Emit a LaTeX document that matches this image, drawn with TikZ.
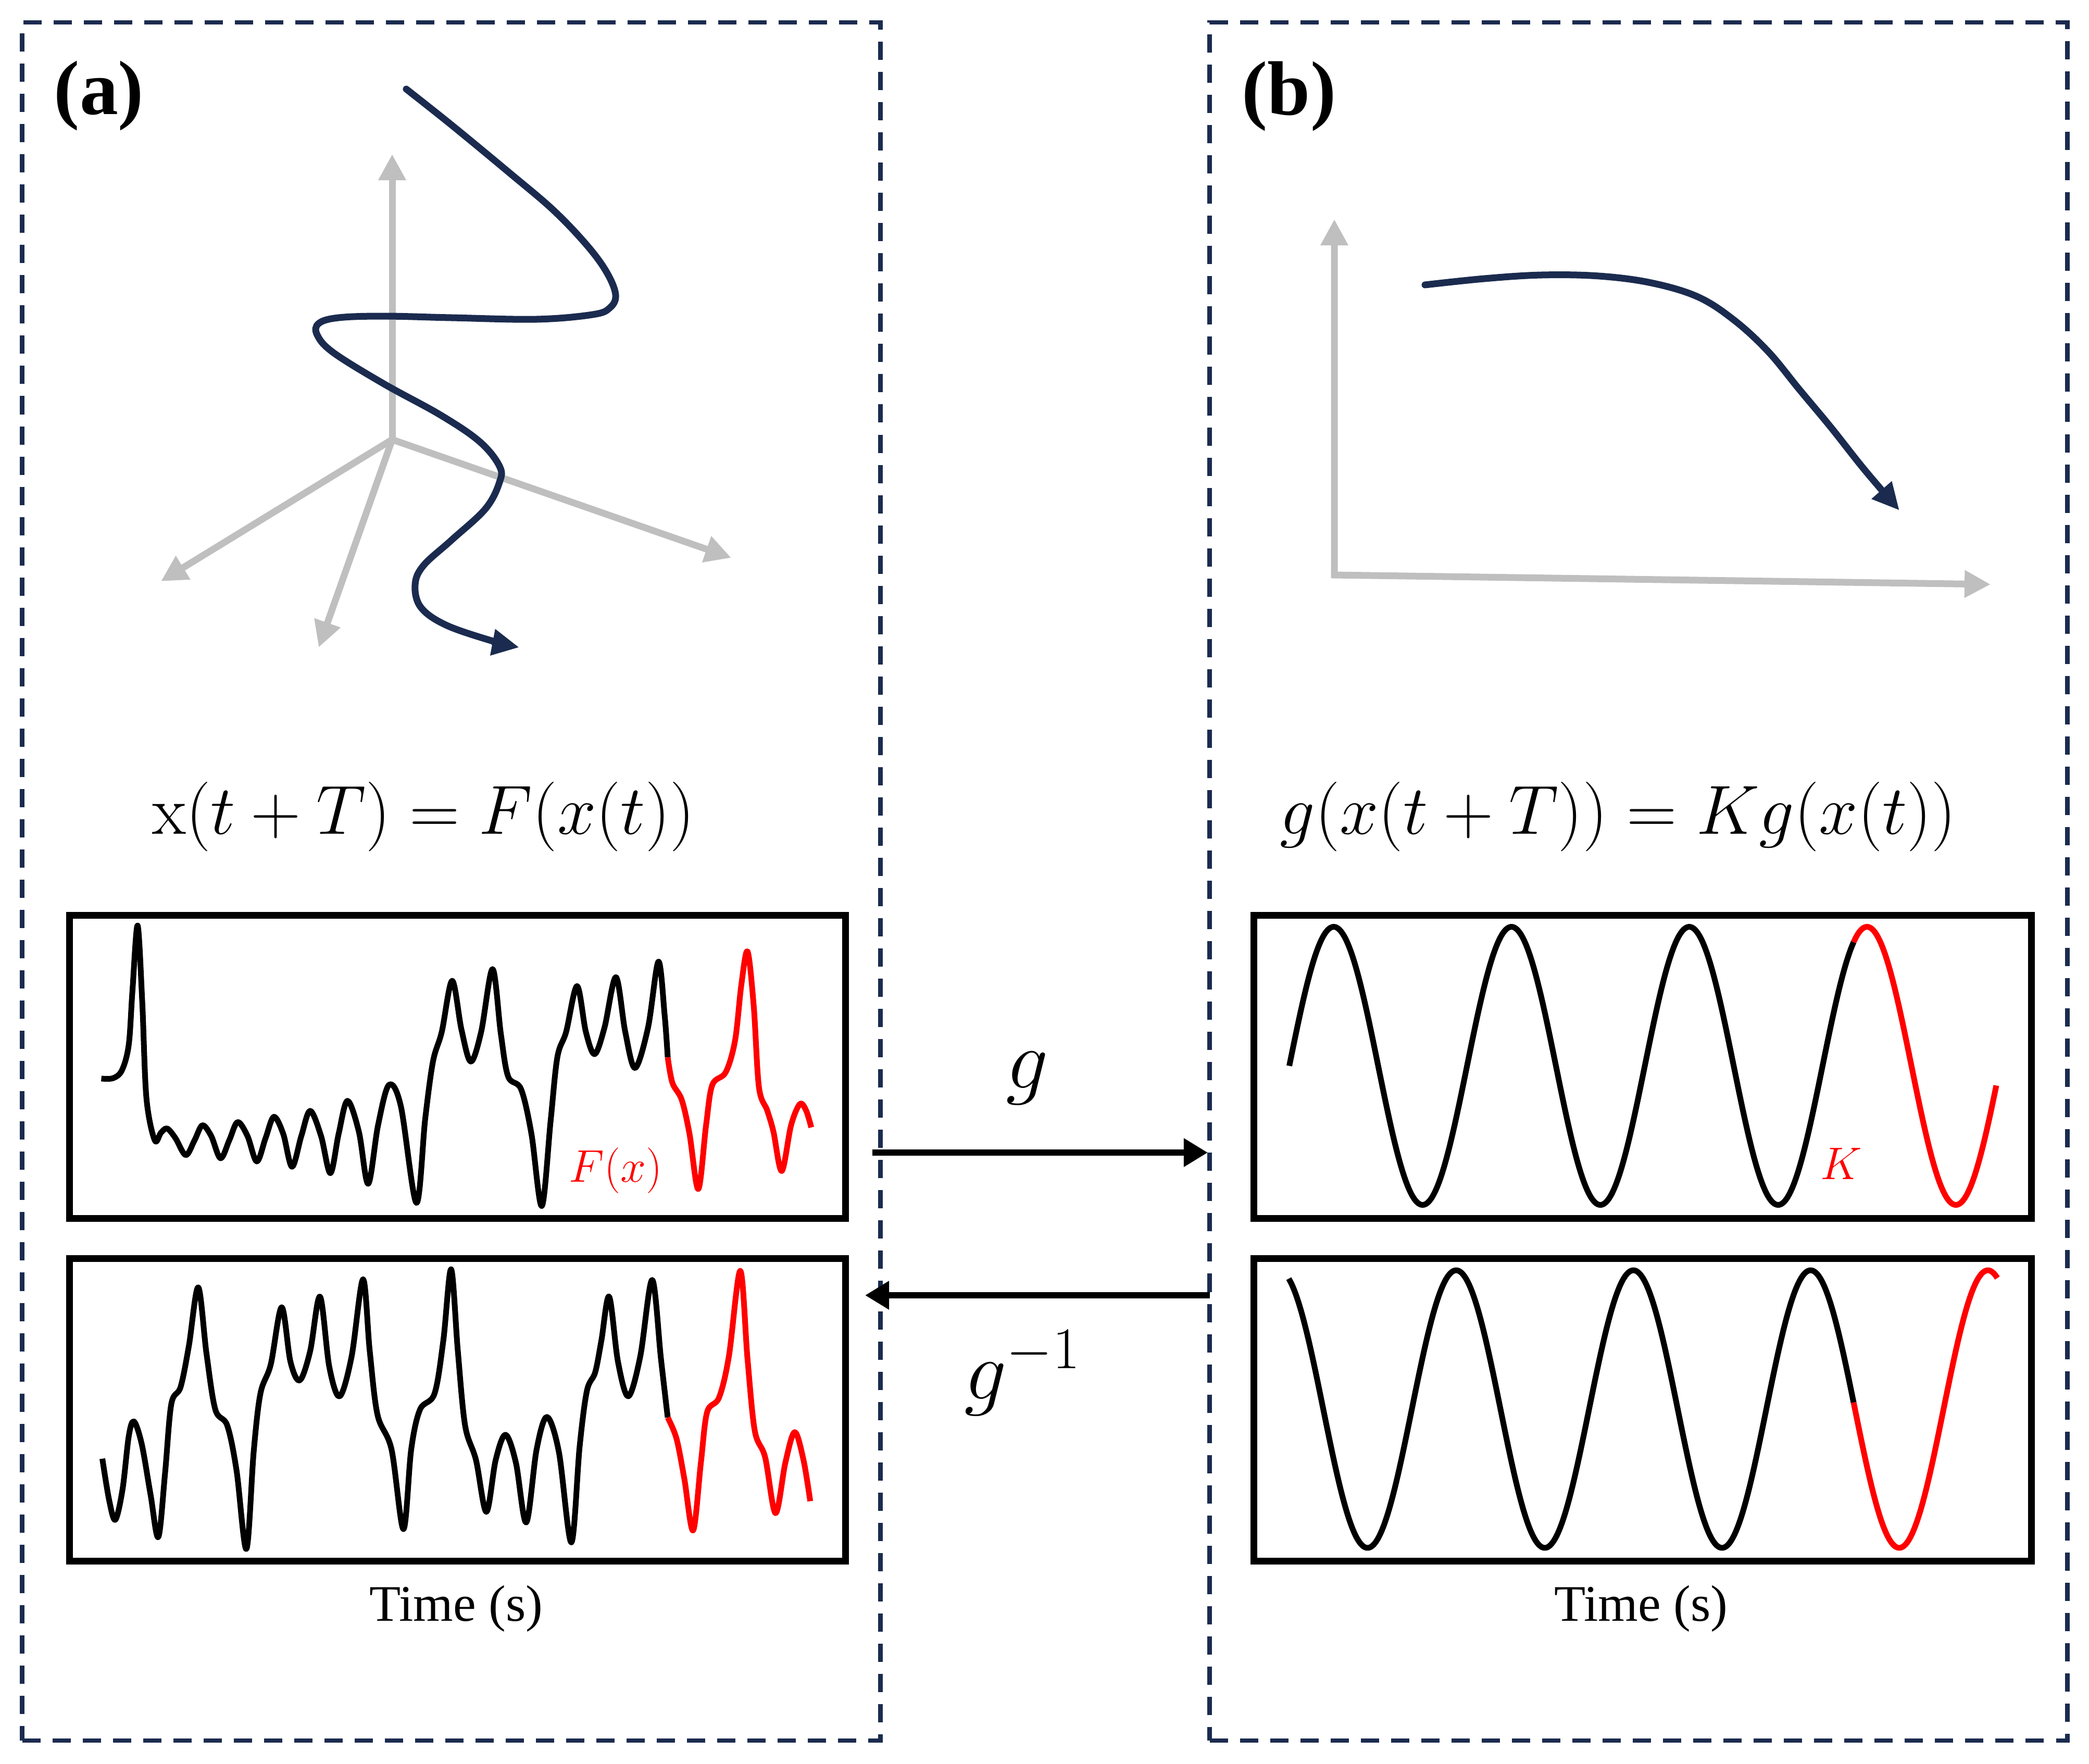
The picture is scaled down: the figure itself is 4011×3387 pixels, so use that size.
\documentclass[tikz,border=0pt]{standalone}
\usepackage{fix-cm}
\usepackage[no-math]{fontspec}
\setmainfont{Liberation Serif}
\usetikzlibrary{arrows.meta}
\definecolor{navy}{HTML}{1B2B4F}
\definecolor{axgrey}{HTML}{BFBFBF}
\begin{document}
\begin{tikzpicture}[x=0.01cm, y=-0.01cm,
  panel/.style={draw=navy, line width=0.087cm, dash pattern=on 0.35cm off 0.23cm, inner sep=0pt, outer sep=0pt},
  sigbox/.style={draw=black, line width=0.13cm, inner sep=0pt, outer sep=0pt, minimum height=5.81cm},
  axis3d/.style={draw=axgrey, line width=0.13cm, -{Triangle[length=0.5cm,width=0.5cm]}},
  axis2d/.style={draw=axgrey, line width=0.13cm, {Triangle[length=0.5cm,width=0.5cm]}-{Triangle[length=0.5cm,width=0.5cm]}},
  traj/.style={draw=navy, line width=0.13cm, line cap=round, -{Triangle[length=0.52cm,width=0.48cm]}},
  sig/.style={draw=black, line width=0.11cm, line join=round},
  sigred/.style={draw=red, line width=0.11cm, line join=round},
  maparrow/.style={draw=black, line width=0.115cm, -{Triangle[length=0.46cm,width=0.52cm]}},
  tag/.style={font=\fontsize{42}{48}\selectfont\bfseries},
  eq/.style={font=\fontsize{38}{44}\selectfont},
  timelab/.style={font=\fontsize{28}{32}\selectfont},
  redlab/.style={text=red, font=\fontsize{25}{30}\selectfont},
  maplab/.style={font=\fontsize{46}{52}\selectfont}]
\useasboundingbox (0,0) rectangle (4011,3387);

% dashed panels
\node[panel, minimum width=16.47cm, minimum height=32.97cm] (pa) at (866.5,1692.5) {};
\node[panel, minimum width=16.46cm, minimum height=32.97cm] (pb) at (3146,1692.5) {};

% panel tags
\node[tag] (ta) at (190,184) {(a)};
\node[tag] (tb) at (2475,185) {(b)};

% 3D axes (a)
\coordinate (o3) at (753,844);
\coordinate (zup) at (753,296);
\coordinate (xl) at (309,1116);
\coordinate (yd) at (612,1243);
\coordinate (xr) at (1404,1071);
\draw[axis3d] (o3) -- (zup);
\draw[axis3d] (o3) -- (xl);
\draw[axis3d] (o3) -- (yd);
\draw[axis3d] (o3) -- (xr);

% trajectory (a)
\draw[traj] plot[smooth, tension=0.6] coordinates {
 (780,171) (867,240) (976,330) (1062,403) (1127,471) (1165,523) (1182,566)
 (1171,591) (1138,604) (1030,613) (867,610) (737,607) (650,610) (612,621)
 (609,643) (640,677) (737,737) (846,797) (921,848) (959,895) (959,926)
 (932,977) (867,1037) (813,1086) (797,1123) (808,1166) (856,1200)
 (943,1230) (997,1243)};

% 2D axes (b)
\coordinate (o2) at (2562,1104);
\coordinate (vup) at (2562,421);
\coordinate (hr) at (3822,1122);
\draw[axis2d] (vup) -- (o2) -- (hr);

% trajectory (b)
\draw[traj] plot[smooth, tension=0.6] coordinates {
 (2736,547) (2850,535) (2960,528) (3070,530) (3170,543) (3260,570)
 (3330,615) (3395,675) (3455,748) (3515,820) (3580,902) (3647,980)};

% equations
\node[eq] (eqa) at (813,1568) {$\mathrm{x}(t+T)=F(x(t))$};
\node[eq] (eqb) at (3107,1568) {$g(x(t+T))=Kg(x(t))$};

% signal boxes
\node[sigbox, minimum width=14.89cm] (s1) at (878.5,2048.5) {};
\node[sigbox, minimum width=14.89cm] (s2) at (878.5,2707) {};
\node[sigbox, minimum width=14.92cm] (s3) at (3154,2048.5) {};
\node[sigbox, minimum width=14.92cm] (s4) at (3154,2707) {};

% left top signal
\begin{scope}[shift={(100,1720)}, xscale=0.995, yscale=0.408]
\draw[sig] plot[smooth, tension=0.55] coordinates {
 (95,860) (118,858) (135,820) (148,700) (155,450) (165,140) (174,500) (182,950)
 (198,1150) (210,1115) (222,1095) (238,1140) (258,1220) (275,1150) (290,1080)
 (307,1130) (325,1235) (342,1150) (358,1065) (377,1130) (395,1250) (412,1140)
 (428,1040) (446,1120) (463,1275) (481,1130) (498,1012) (519,1130) (537,1305)
 (553,1120) (570,965) (592,1110) (610,1355) (629,1080) (650,890) (673,990)
 (703,1445) (720,1050) (735,780) (752,640) (772,400) (790,630) (808,780)
 (828,640) (850,345) (866,650) (880,850) (905,910) (925,1120) (945,1460)
 (962,1060) (975,760) (992,640) (1013,425) (1030,640) (1047,745) (1066,620)
 (1088,383) (1106,640) (1125,810) (1150,620) (1170,310) (1182,560) (1188,760)};
\draw[sigred] plot[smooth, tension=0.55] coordinates {
 (1188,760) (1197,880) (1215,960) (1230,1120) (1247,1380) (1262,1080)
 (1274,890) (1300,830) (1318,680) (1330,420) (1342,262) (1354,520)
 (1364,900) (1380,1010) (1392,1110) (1408,1295) (1426,1080) (1443,980)
 (1455,1010) (1465,1090)};
\end{scope}

% left bottom signal
\begin{scope}[shift={(100,2380)}, xscale=0.995, yscale=0.51]
\draw[sig] plot[smooth, tension=0.55] coordinates {
 (97,825) (110,980) (122,1055) (136,940) (148,740) (158,685) (173,770)
 (190,960) (205,1120) (218,880) (230,620) (248,555) (264,400) (282,180)
 (298,430) (315,640) (338,700) (356,870) (375,1165) (389,800) (402,580)
 (422,470) (443,255) (460,460) (478,530) (498,420) (517,215) (535,480)
 (555,590) (578,440) (600,150) (613,420) (628,660) (655,790) (678,1090)
 (693,790) (710,640) (738,580) (755,380) (770,112) (783,420) (797,700)
 (818,830) (838,1025) (856,830) (875,735) (895,840) (915,1065) (935,790)
 (955,668) (978,800) (1002,1140) (1018,780) (1032,570) (1048,500) (1060,380)
 (1075,215) (1092,460) (1112,590) (1135,440) (1158,152) (1175,450) (1188,670)};
\draw[sigred] plot[smooth, tension=0.55] coordinates {
 (1188,670) (1205,750) (1220,900) (1237,1095) (1252,840) (1264,650)
 (1287,595) (1306,440) (1328,118) (1342,450) (1356,720) (1376,820)
 (1396,1030) (1415,840) (1433,725) (1450,830) (1463,985)};
\end{scope}

% right sines
\draw[sig] plot[domain=2475.5:3559, samples=220, smooth] (\x,{2046.5-267*sin((\x-2475.5)/341.3*360)});
\draw[sigred] plot[domain=3559:3833, samples=60, smooth] (\x,{2046.5-267*sin((\x-2475.5)/341.3*360)});
\draw[sig] plot[domain=2474.5:3559, samples=220, smooth] (\x,{2705.5-266.5*cos((\x-2795.9)/340.3*360)});
\draw[sigred] plot[domain=3559:3835, samples=60, smooth] (\x,{2705.5-266.5*cos((\x-2795.9)/340.3*360)});

% red labels
\node[redlab] (fx) at (1182,2247) {$F(x)$};
\node[redlab] (kk) at (3535,2234) {$K$};

% time labels
\node[timelab] (t1) at (876,3089) {Time (s)};
\node[timelab] (t2) at (3151,3089) {Time (s)};

% mapping arrows
\coordinate (gs) at (1675,2213);
\coordinate (ge) at (2319,2213);
\coordinate (hs) at (2323,2487);
\coordinate (he) at (1661,2487);
\draw[maparrow] (gs) -- (ge);
\draw[maparrow] (hs) -- (he);
\node[maplab] (gl) at (1972,2070) {$g$};
\node[maplab] (gil) at (1963,2636) {$g^{-1}$};
\end{tikzpicture}
\end{document}
